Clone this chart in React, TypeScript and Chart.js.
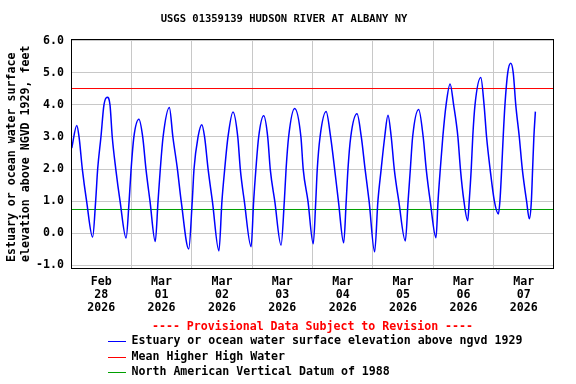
import React, { useEffect, useRef } from "react";
import { Chart, registerables } from "chart.js";

Chart.register(...registerables);

const TITLE = "USGS 01359139 HUDSON RIVER AT ALBANY NY";
const Y_TITLE = ["Estuary or ocean water surface", "elevation above NGVD 1929, feet"];
const NOTE = "---- Provisional Data Subject to Revision ----";
const SERIES_LABELS = [
  "Estuary or ocean water surface elevation above ngvd 1929",
  "Mean Higher High Water",
  "North American Vertical Datum of 1988",
];
const SERIES_COLORS = ["#0000ff", "#ff0000", "#00a000"];

// hours since Feb 28 2026 00:00
const hours = [
  0.3, 2.3, 3.2, 4.5, 6.2, 8.6, 9.8, 10.6, 11.9, 13.1, 14.4, 15.5, 16.4, 17.8, 19.5, 21.9,
  23.1, 23.9, 25.0, 27.0, 28.5, 29.8, 31.4, 33.5, 34.6, 35.5, 36.6, 39.1, 40.5, 42.3, 43.8,
  46.8, 48.2, 48.9, 50.5, 52.0, 53.1, 54.5, 56.2, 58.8, 60.0, 61.1, 62.4, 64.4, 66.3, 67.3,
  68.9, 71.6, 72.6, 73.5, 74.6, 76.6, 78.2, 79.2, 81.0, 83.5, 84.8, 85.5, 86.5, 88.9, 91.4,
  92.3, 94.2, 96.3, 97.3, 97.9, 99.0, 101.4, 103.2, 104.8, 106.3, 108.4, 109.4, 110.1, 111.2,
  113.7, 115.4, 116.9, 118.5, 120.7, 122.0, 123.3, 124.7, 126.0, 127.3, 128.5, 130.3, 132.9,
  134.0, 134.9, 135.8, 138.2, 140.0, 141.2, 142.8, 145.1, 145.9, 146.8, 147.8, 149.1, 150.7,
  152.1, 153.8, 154.8, 156.2, 157.7, 158.3, 159.1, 159.7, 160.6, 162.9, 164.2, 165.2, 166.6,
  168.3, 169.9, 170.5, 171.2, 171.8, 172.5, 173.6, 174.8, 175.8, 176.8, 178.2, 179.4, 181.1,
  182.2, 183.0, 183.5, 184.0, 184.6,
];
const feet = [
  2.65, 3.36, 3.0, 2.0, 1.0, -0.12, 1.0, 2.0, 3.0, 4.0, 4.24, 4.0, 3.0, 2.0, 1.0, -0.15,
  1.0, 2.0, 3.0, 3.55, 3.0, 2.0, 1.0, -0.26, 1.0, 2.0, 3.0, 3.92, 3.0, 2.0, 1.0,
  -0.49, 1.0, 2.0, 3.0, 3.38, 3.0, 2.0, 1.0, -0.55, 1.0, 2.0, 3.0, 3.78, 3.0, 2.0,
  1.0, -0.42, 1.0, 2.0, 3.0, 3.66, 3.0, 2.0, 1.0, -0.37, 1.0, 2.0, 3.0, 3.89, 3.0,
  2.0, 1.0, -0.33, 1.0, 2.0, 3.0, 3.79, 3.0, 2.0, 1.0, -0.3, 1.0, 2.0, 3.0,
  3.72, 3.0, 2.0, 1.0, -0.58, 1.0, 2.0, 3.0, 3.68, 3.0, 2.0, 1.0, -0.24,
  1.0, 2.0, 3.0, 3.86, 3.0, 2.0, 1.0, -0.14, 1.0, 2.0, 3.0, 4.0, 4.65,
  4.0, 3.0, 2.0, 1.0, 0.39, 1.0, 2.0, 3.0, 4.0, 4.85, 4.0, 3.0, 2.0,
  1.0, 0.6, 1.0, 2.0, 3.0, 4.0, 5.0, 5.3, 5.0, 4.0, 3.0, 2.0, 1.0,
  0.45, 1.0, 2.0, 3.0, 3.79,
];
const MHHW = 4.51;
const NAVD88 = 0.74;

const X_MIN = 0;
const X_MAX = 192;
const Y_MIN = -1.083;
const Y_MAX = 6.053;
const yTicks = [-1, 0, 1, 2, 3, 4, 5, 6];
const midnightTicks = [24, 48, 72, 96, 120, 144, 168];
const noonTicks = [12, 36, 60, 84, 108, 132, 156, 180];
const dayLabels = [
  ["Feb", "28", "2026"],
  ["Mar", "01", "2026"],
  ["Mar", "02", "2026"],
  ["Mar", "03", "2026"],
  ["Mar", "04", "2026"],
  ["Mar", "05", "2026"],
  ["Mar", "06", "2026"],
  ["Mar", "07", "2026"],
];

const FONT = "'DejaVu Sans Mono', monospace";

const decorPlugin = {
  id: "decor",
  afterDraw(chart: any) {
    const { ctx, chartArea } = chart;
    const { left, top, right, bottom } = chartArea;
    ctx.save();
    ctx.strokeStyle = "#000";
    ctx.lineWidth = 1;
    ctx.strokeRect(left + 0.5, top + 0.5, right - left - 1, bottom - top);

    ctx.fillStyle = "#000";
    ctx.font = `bold 10.5px ${FONT}`;
    ctx.textAlign = "center";
    ctx.textBaseline = "middle";
    ctx.fillText(TITLE, 284, 19);

    ctx.font = `bold 11.6px ${FONT}`;
    const yx = [12, 25.5];
    Y_TITLE.forEach((t, i) => {
      ctx.save();
      ctx.translate(yx[i], 262);
      ctx.rotate(-Math.PI / 2);
      ctx.textAlign = "left";
      ctx.textBaseline = "middle";
      ctx.fillText(t, 0, 0);
      ctx.restore();
    });

    ctx.fillStyle = "#ff0000";
    ctx.textAlign = "center";
    ctx.fillText(NOTE, (left + right) / 2, 327);

    const rows = [341, 356.7, 372.3];
    SERIES_LABELS.forEach((lab, i) => {
      ctx.fillStyle = SERIES_COLORS[i];
      ctx.fillRect(108, Math.round(rows[i]), 18, 1);
      ctx.fillStyle = "#000";
      ctx.textAlign = "left";
      ctx.fillText(lab, 131.5, rows[i]);
    });
    ctx.restore();
  },
};

export default function App() {
  const ref = useRef<HTMLCanvasElement | null>(null);
  useEffect(() => {
    if (!ref.current) return;
    const tide = hours.map((h, i) => ({ x: h, y: feet[i] }));
    const chart = new Chart(ref.current, {
      type: "line",
      data: {
        datasets: [
          {
            label: SERIES_LABELS[0],
            data: tide,
            borderColor: SERIES_COLORS[0],
            borderWidth: 1.5,
            pointRadius: 0,
            cubicInterpolationMode: "monotone",
          },
          {
            label: SERIES_LABELS[1],
            data: [
              { x: X_MIN, y: MHHW },
              { x: X_MAX, y: MHHW },
            ],
            borderColor: SERIES_COLORS[1],
            borderWidth: 1,
            pointRadius: 0,
          },
          {
            label: SERIES_LABELS[2],
            data: [
              { x: X_MIN, y: NAVD88 },
              { x: X_MAX, y: NAVD88 },
            ],
            borderColor: SERIES_COLORS[2],
            borderWidth: 1,
            pointRadius: 0,
          },
        ],
      },
      options: {
        animation: false,
        responsive: false,
        layout: { padding: { left: 0, top: 39, right: 22, bottom: 0 } },
        plugins: {
          legend: { display: false },
          title: { display: false },
          tooltip: { enabled: false },
        },
        scales: {
          x: {
            type: "linear",
            min: X_MIN,
            max: X_MAX,
            afterBuildTicks: (s: any) => {
              s.ticks = [...midnightTicks, ...noonTicks]
                .sort((a, b) => a - b)
                .map((v) => ({ value: v }));
            },
            afterFit: (s: any) => {
              s.height = 116;
            },
            grid: {
              drawTicks: false,
              color: (c: any) =>
                c.tick && midnightTicks.includes(c.tick.value) ? "#c8c8c8" : "rgba(0,0,0,0)",
              lineWidth: 1,
            },
            border: { display: false },
            ticks: {
              autoSkip: false,
              maxRotation: 0,
              minRotation: 0,
              padding: 8,
              color: "#000",
              font: { family: FONT, size: 11.6, weight: "bold", lineHeight: 1.086 },
              callback: (v: any) => {
                const idx = noonTicks.indexOf(Number(v));
                return idx >= 0 ? dayLabels[idx] : "";
              },
            },
          },
          y: {
            type: "linear",
            min: Y_MIN,
            max: Y_MAX,
            afterBuildTicks: (s: any) => {
              s.ticks = yTicks.map((v) => ({ value: v }));
            },
            afterFit: (s: any) => {
              s.width = 71;
            },
            grid: { drawTicks: false, color: "#c8c8c8", lineWidth: 1 },
            border: { display: false },
            ticks: {
              padding: 7,
              color: "#000",
              font: { family: FONT, size: 11.6, weight: "bold" },
              callback: (v: any) => Number(v).toFixed(1),
            },
          },
        },
      },
      plugins: [decorPlugin],
    });
    return () => chart.destroy();
  }, []);
  return (
    <div style={{ position: "fixed", left: 0, top: 0, width: 576, height: 384, background: "#fff" }}>
      <canvas ref={ref} width={576} height={384} style={{ display: "block" }} />
    </div>
  );
}
